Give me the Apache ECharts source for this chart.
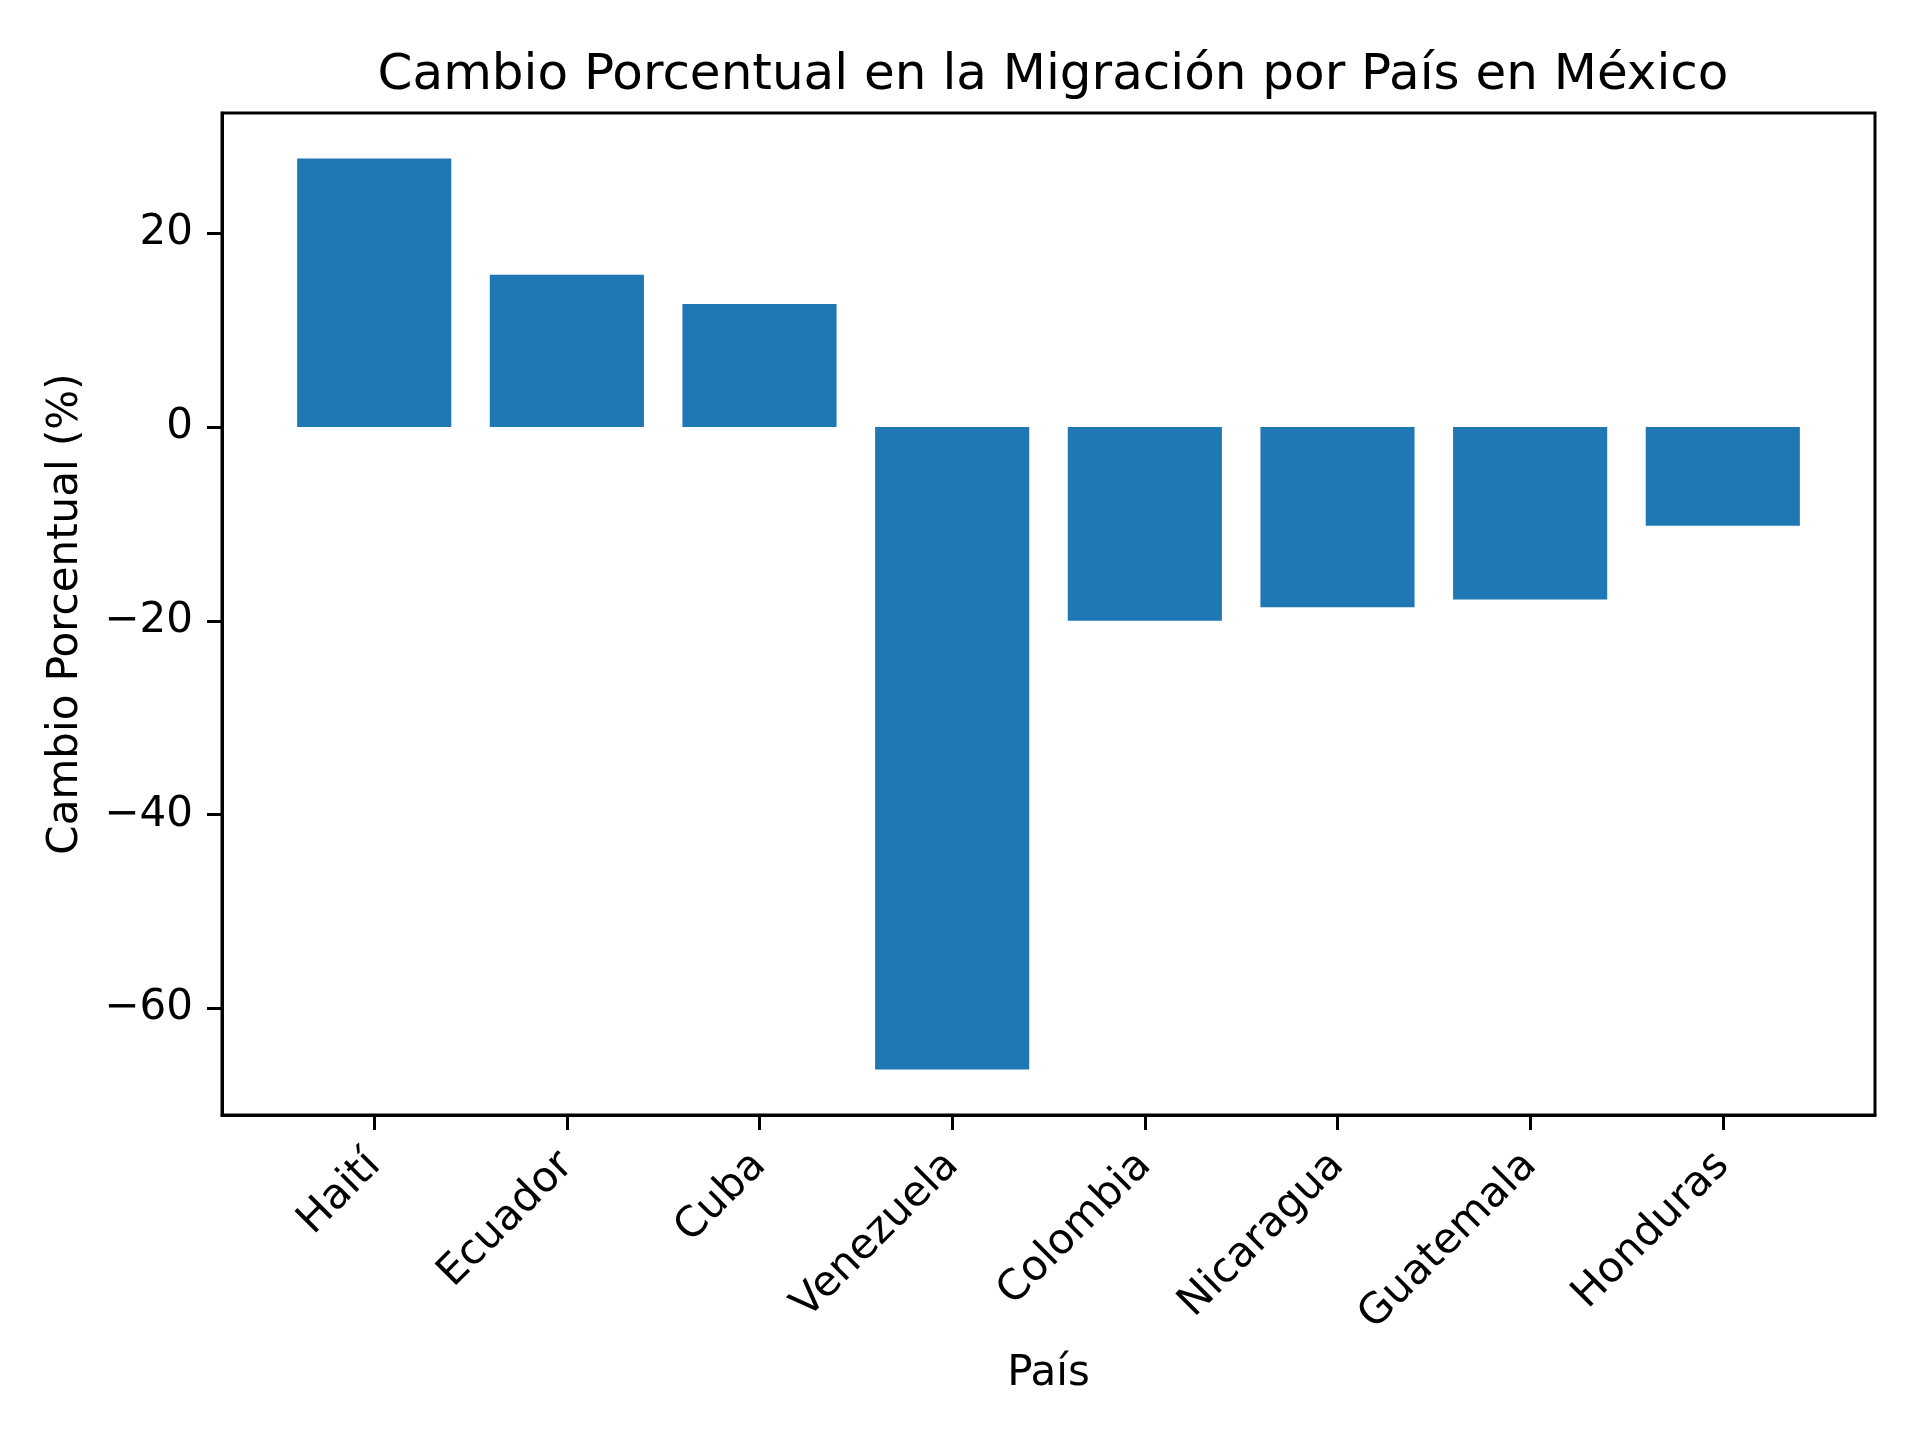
<!DOCTYPE html>
<html>
<head>
<meta charset="utf-8">
<script src="https://cdn.jsdelivr.net/npm/echarts@6/dist/echarts.min.js"></script>
<style>
  html, body { margin: 0; padding: 0; background: #fff; }
  #chart { width: 1920px; height: 1440px; }
</style>
</head>
<body>
<div id="chart"></div>
<script>
// datos
const paises = ['Haití', 'Ecuador', 'Cuba', 'Venezuela', 'Colombia', 'Nicaragua', 'Guatemala', 'Honduras'];
const cambio = [27.7, 15.7, 12.7, -66.3, -20.0, -18.6, -17.8, -10.2];
const yTicks = [-60, -40, -20, 0, 20];

const font = 'DejaVu Sans';
const minus = v => String(v).replace('-', '\u2212');

const chart = echarts.init(document.getElementById('chart'));
chart.setOption({
    animation: false,
    title: {
        text: 'Cambio Porcentual en la Migración por País en México',
        left: 1048,
        top: 46,
        textAlign: 'center',
        textStyle: { fontFamily: font, fontSize: 50, fontWeight: 'normal', color: '#000' }
    },
    grid: {
        left: 222,
        right: 45,
        top: 113,
        bottom: 325,
        show: true,
        borderColor: '#000',
        borderWidth: 3
    },
    xAxis: {
        type: 'value',
        min: -0.79,
        max: 7.79,
        name: 'País',
        nameLocation: 'middle',
        nameGap: 238,
        nameTextStyle: { fontFamily: font, fontSize: 42, color: '#000' },
        axisLine: { show: true, onZero: false, lineStyle: { color: '#000', width: 3 } },
        axisTick: {
            show: true, length: 15, lineStyle: { color: '#000', width: 3 },
            customValues: paises.map((p, i) => i)
        },
        axisLabel: {
            rotate: 45,
            margin: 44,
            fontFamily: font,
            fontSize: 42,
            color: '#000',
            customValues: paises.map((p, i) => i),
            formatter: v => paises[Math.round(v)]
        },
        splitLine: { show: false }
    },
    yAxis: {
        type: 'value',
        min: -71.0,
        max: 32.4,
        name: 'Cambio Porcentual (%)',
        nameLocation: 'middle',
        nameGap: 135,
        nameTextStyle: { fontFamily: font, fontSize: 42, color: '#000' },
        axisLine: { show: true, onZero: false, lineStyle: { color: '#000', width: 3 } },
        axisTick: {
            show: true, length: 15, lineStyle: { color: '#000', width: 3 },
            customValues: yTicks
        },
        axisLabel: {
            margin: 29,
            fontFamily: font,
            fontSize: 42,
            color: '#000',
            customValues: yTicks,
            formatter: minus
        },
        splitLine: { show: false }
    },
    series: [{
        type: 'bar',
        data: cambio.map((v, i) => [i, v]),
        barWidth: '80%',
        itemStyle: { color: '#1f77b4' }
    }]
});
</script>
</body>
</html>
